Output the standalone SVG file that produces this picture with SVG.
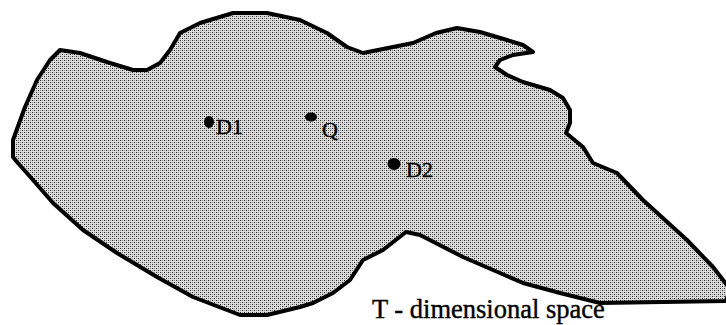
<svg xmlns="http://www.w3.org/2000/svg" width="726" height="325" viewBox="0 0 726 325">
  <defs>
    <pattern id="dither" width="4" height="4" patternUnits="userSpaceOnUse">
      <rect width="4" height="4" fill="#dedede"/>
      <rect x="0" y="0" width="1" height="1" fill="#222"/>
      <rect x="2" y="2" width="1" height="1" fill="#222"/>
      <rect x="2" y="0" width="1" height="1" fill="#8a8a8a"/>
      <rect x="0" y="2" width="1" height="1" fill="#8a8a8a"/>
    </pattern>
  </defs>
  <style>
    .region { fill: url(#dither); stroke: #000; stroke-width: 4; stroke-linejoin: round; }
    .dot { fill: #000; }
    .lbl { font-family: "Liberation Serif", "Times New Roman", serif; font-size: 22px; fill: #000; stroke: #000; stroke-width: 0.4; }
    .title { font-family: "Liberation Serif", "Times New Roman", serif; font-size: 26.5px; fill: #000; stroke: #000; stroke-width: 0.4; }
  </style>
  <g id="space">
    <path class="region" d="M60,50 L80,53 L110,63 L133,70 L147,70 L160,63 L170,50 L180,33 L200,23 L233,13 L267,13 L300,20 L327,33 L347,47 L363,53 L413,43 L436,33 L457,28 L480,32 L507,40 L523,45 L533,52 L513,55 L500,60 L495,67 L507,75 L523,82 L550,90 L563,98 L570,110 L570,123 L566,133 L583,147 L593,163 L617,173 L643,200 L687,240 L713,267 L730,289 L726,301 L600,303 L560,293 L523,283 L463,257 L420,235 L406,232 L383,250 L363,260 L350,280 L333,293 L313,303 L300,307 L267,315 L240,315 L193,297 L157,277 L117,253 L83,230 L53,203 L33,180 L17,162 L13,157 L13,140 L25,107 L37,80 L50,60 Z"/>
  </g>
  <g id="D1">
    <ellipse class="dot" cx="209" cy="122" rx="5" ry="6"/>
    <text class="lbl" x="216" y="134">D1</text>
  </g>
  <g id="Q">
    <ellipse class="dot" cx="311" cy="117" rx="6" ry="4.5"/>
    <text class="lbl" x="322" y="137">Q</text>
  </g>
  <g id="D2">
    <ellipse class="dot" cx="394" cy="164" rx="6.5" ry="6"/>
    <text class="lbl" x="406" y="177">D2</text>
  </g>
  <g id="caption">
    <text class="title" x="372" y="318">T - dimensional space</text>
  </g>
</svg>
